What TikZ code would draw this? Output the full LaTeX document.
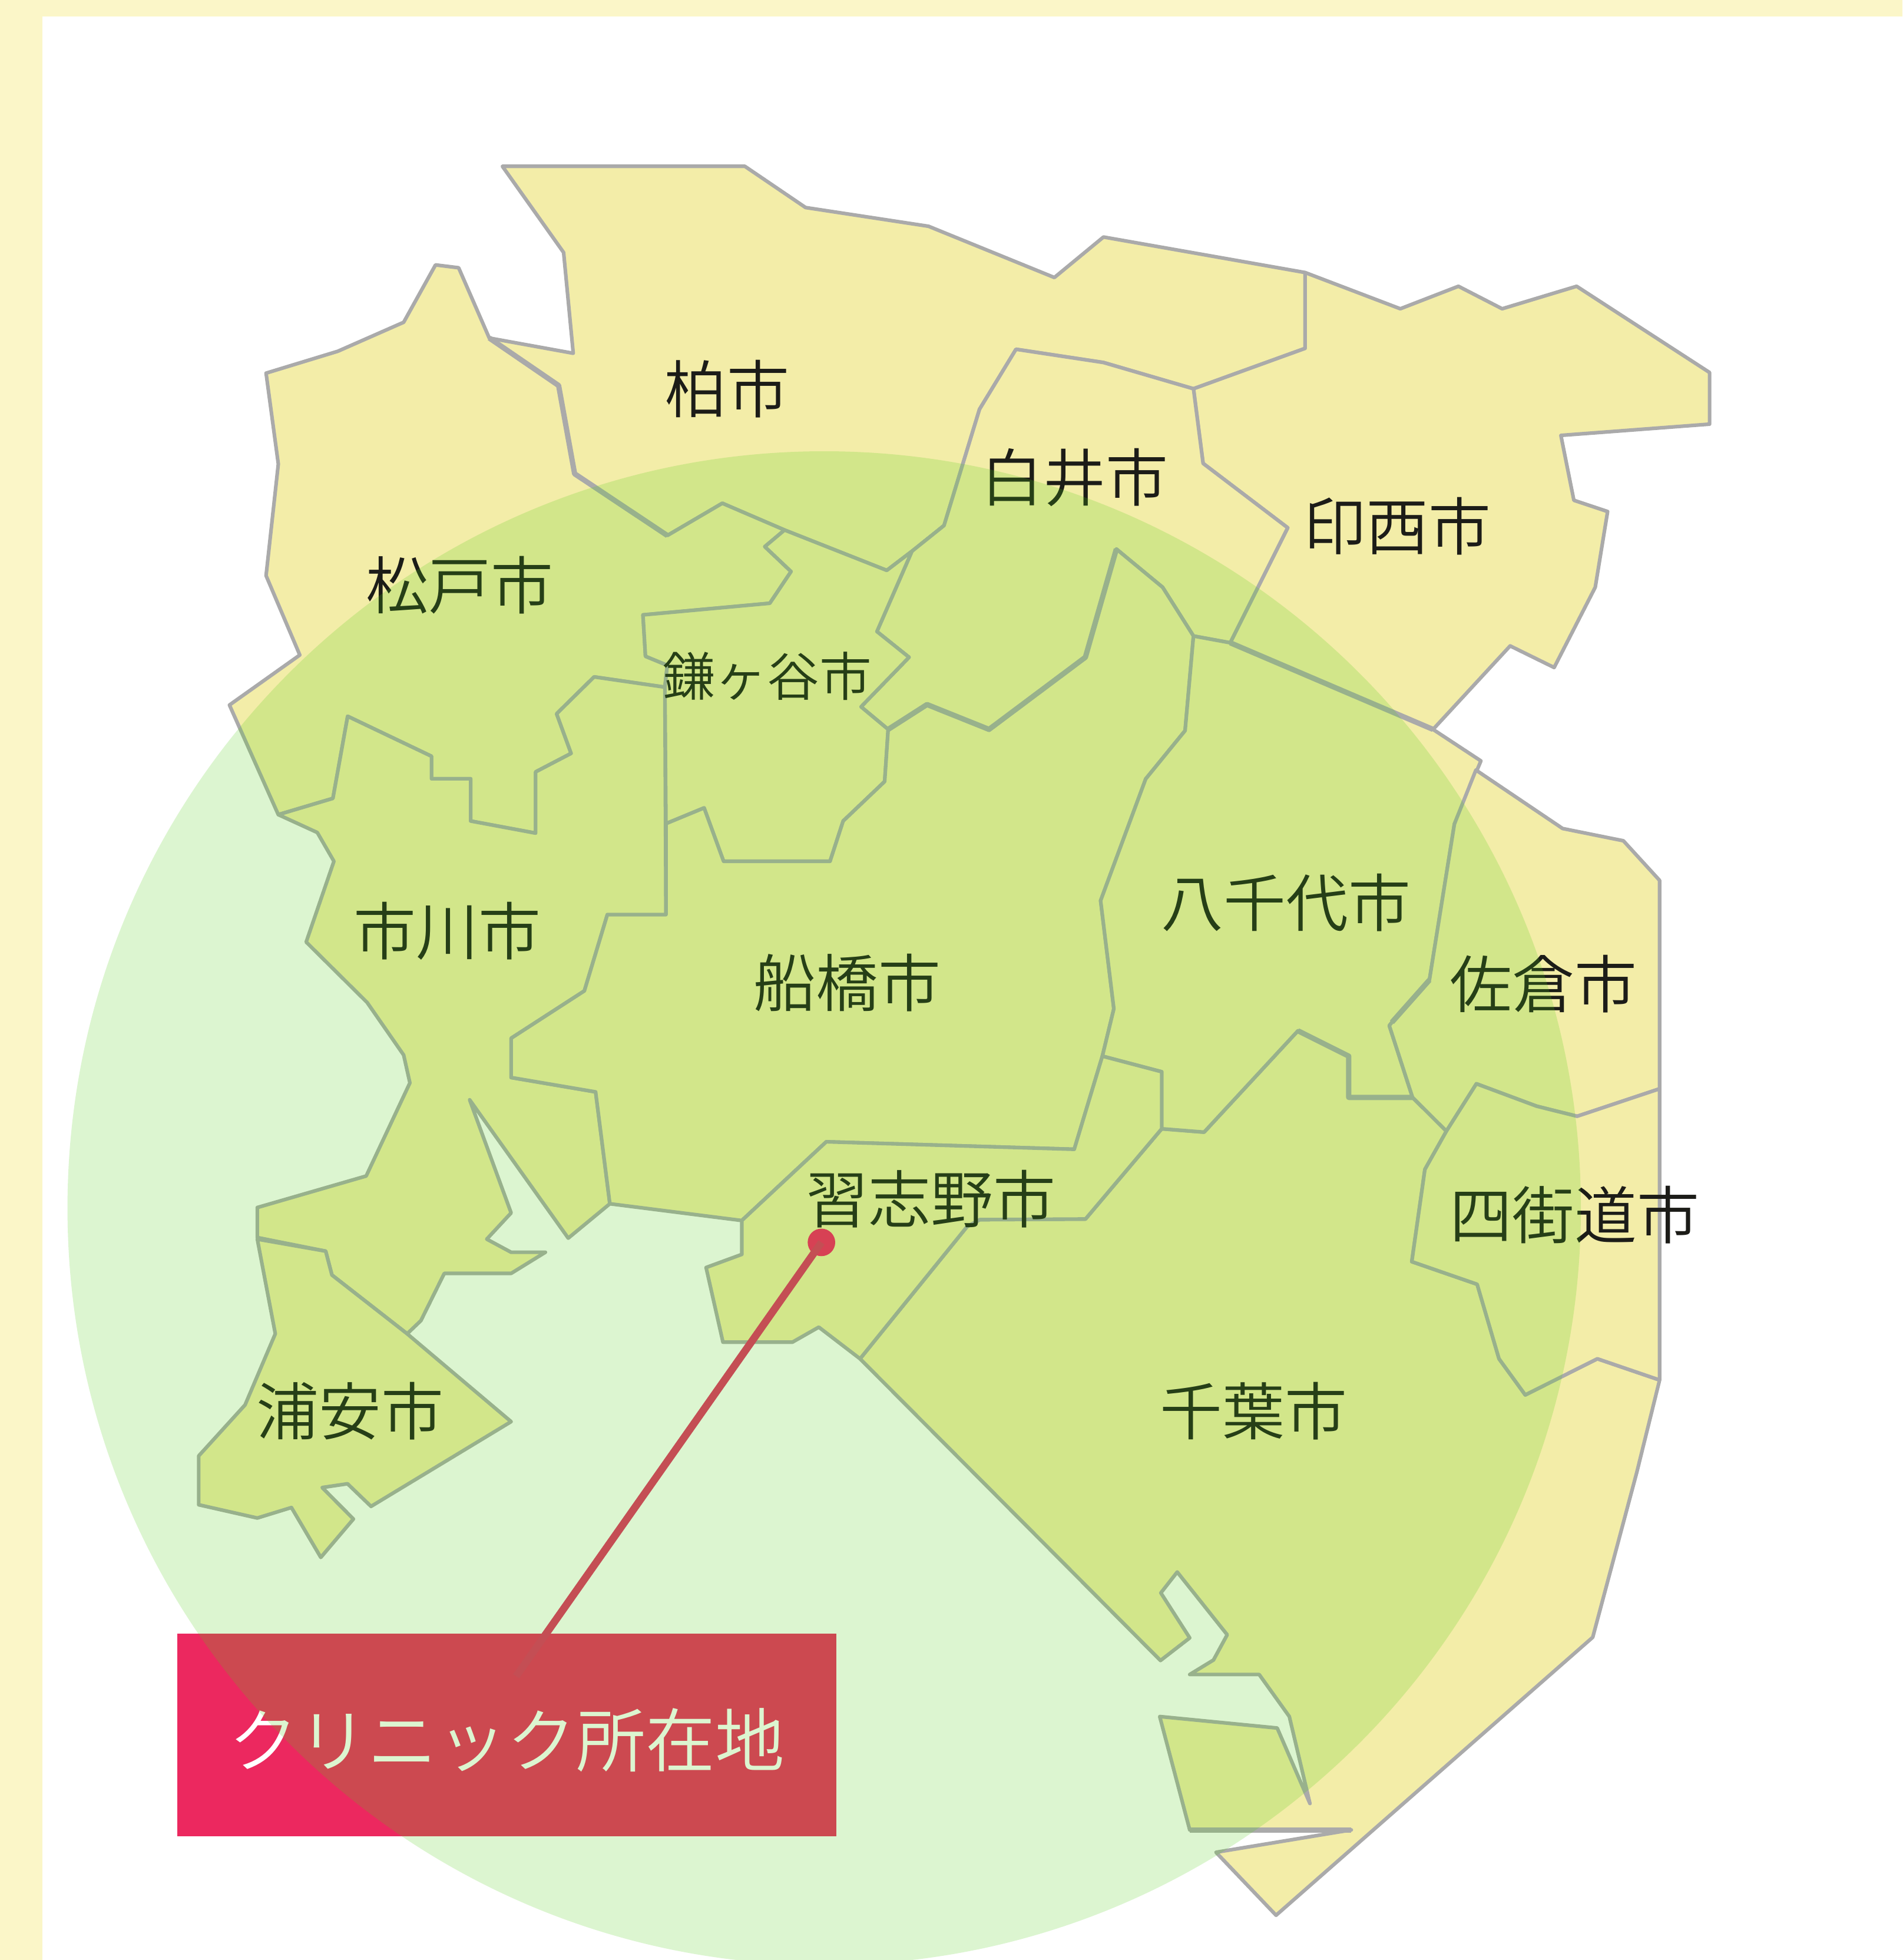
\documentclass[tikz,border=0pt]{standalone}
\usepackage{fontspec}
\setmainfont{Noto Sans CJK JP DemiLight}
\definecolor{bandcol}{RGB}{251,246,200}
\definecolor{landcol}{RGB}{243,237,168}
\definecolor{edgecol}{RGB}{170,170,170}
\definecolor{halocol}{RGB}{80,205,20}
\definecolor{boxcol}{RGB}{236,40,95}
\definecolor{linecol}{RGB}{226,47,100}
\definecolor{dotcol}{RGB}{249,30,100}
\definecolor{inkcol}{RGB}{28,28,24}
\tikzset{
  region/.style={fill=landcol,draw=edgecol,line width=0.82pt,line join=round},
  thickedge/.style={draw=edgecol,line width=1.2pt,line join=round},
  cityname/.style={text=inkcol,inner sep=0pt,font=\fontsize{14.2pt}{16pt}\selectfont},
  citysmall/.style={cityname,font=\fontsize{11.9pt}{14pt}\selectfont},
  clinicbox/.style={fill=boxcol,draw=none,inner sep=0pt,minimum width=527*0.1mm,minimum height=162*0.1mm},
  pindot/.style={circle,fill=dotcol,draw=none,inner sep=0pt,minimum size=22*0.1mm},
  pinline/.style={draw=linecol,line width=1.7pt},
}
\begin{document}
\begin{tikzpicture}[x=0.01cm,y=-0.01cm]
\useasboundingbox (0,0) rectangle (1522.3,1568);
\fill[white] (0,0) rectangle (1522.3,1568);
\fill[bandcol] (0,0) rectangle (1522.3,13);
\fill[bandcol] (0,0) rectangle (34,1568);
% Chiba
\draw[region] (688.2,1087)--(773.9,981.2)--(784,975.7)--(868.6,975.2)--(929.6,903)--(963.5,905.7)--(1038.6,824.6)--(1079.2,844.9)--(1079.2,877.9)--(1130.3,877.9)--(1157.4,904.9)--(1140.2,935.5)--(1129.7,1009.3)--(1182,1027.4)--(1199.5,1087)--(1220.5,1115.9)--(1278.2,1087)--(1328,1104)--(1309.7,1178)--(1274.5,1309.8)--(1021.1,1532.2)--(973,1481.8)--(1081.3,1463.9)--(952,1463.9)--(928,1373.2)--(1022,1382.4)--(1048.2,1442.8)--(1031.7,1373.2)--(1007.6,1339.6)--(952,1339.6)--(971,1328)--(982,1307.8)--(942,1257.6)--(928.9,1274.3)--(952,1310.3)--(928.6,1328.4)--(848.3,1247.7)--cycle;
% Kashiwa
\draw[region] (402,133)--(596,133)--(644.6,166)--(743,181)--(843.7,222)--(883,189.6)--(1044.3,218)--(1044.3,278.7)--(955,311)--(883,290)--(813,279.4)--(783.8,327.4)--(755.4,420.4)--(729.7,441)--(709.6,456.3)--(627.8,424)--(578,402.6)--(534,428.4)--(459.8,379)--(447,308.4)--(391.5,270.4)--(458.7,282.6)--(451,202)--cycle;
% Matsudo
\draw[region] (348.5,211.9)--(367,214.2)--(391.5,270.4)--(447,308.4)--(459.8,379)--(534,428.4)--(578,402.6)--(627.8,424)--(612,437.3)--(633,457.2)--(616,482.6)--(514.5,491.9)--(516.5,525)--(534,532.2)--(532,549.7)--(475.4,541.5)--(445.4,571)--(457,602.7)--(428.6,617.5)--(428.6,666.5)--(376.6,656.8)--(376.6,623)--(345.3,623)--(345.3,605)--(278.2,573)--(266.4,638.7)--(222.7,651.7)--(183.6,564)--(239.9,524)--(212.9,460.5)--(222.7,371.2)--(212.9,298.5)--(270.3,281)--(323,257.8)--cycle;
% Inzai
\draw[region] (1044.3,218)--(1120.5,247)--(1167,229)--(1202,247)--(1261.6,229)--(1368,298)--(1368,339.3)--(1249,348.3)--(1259.4,400.2)--(1286.4,409.2)--(1276.5,469.8)--(1243.6,534)--(1208.4,516.7)--(1146.7,583.5)--(984.4,514.2)--(1030.4,422.2)--(962.7,370.7)--(955,311)--(1044.3,278.7)--cycle;
% Shiroi
\draw[region] (813,279.4)--(883,290)--(955,311)--(962.7,370.7)--(1030.4,422.2)--(984.4,514.2)--(955,508.8)--(930.3,469.8)--(893.3,439.2)--(868.5,525.8)--(791.4,583.5)--(741.8,563.6)--(710.7,583.5)--(689,565.4)--(727.4,525.8)--(701.7,505.2)--(729.7,441)--(755.4,420.4)--(783.8,327.4)--cycle;
% Kamagaya
\draw[region] (627.8,424)--(709.6,456.3)--(729.7,441)--(701.7,505.2)--(727.4,525.8)--(689,565.4)--(710.7,583.5)--(707.9,625.2)--(674.7,656.8)--(664.2,689)--(579,689)--(563.4,646.3)--(532.9,658.9)--(532,549.7)--(534,532.2)--(516.5,525)--(514.5,491.9)--(616,482.6)--(633,457.2)--(612,437.3)--cycle;
% Ichikawa
\draw[region] (222.7,651.7)--(266.4,638.7)--(278.2,573)--(345.3,605)--(345.3,623)--(376.6,623)--(376.6,656.8)--(428.6,666.5)--(428.6,617.5)--(457,602.7)--(445.4,571)--(475.4,541.5)--(532,549.7)--(532.9,731.7)--(486,731.7)--(467.6,792.7)--(409,830.6)--(409,862)--(476.6,873.5)--(488,963)--(454.7,990.5)--(375.8,879.8)--(409,970.3)--(389.5,991.3)--(409,1001.8)--(436.4,1001.8)--(409,1018.7)--(355.5,1018.7)--(336.8,1056.5)--(325.8,1067)--(265.6,1020)--(260.6,1000.9)--(205.9,990)--(205.9,966)--(293,940.8)--(328,866.3)--(323,844)--(293.8,802)--(245,753.6)--(267.2,689)--(253.9,666)--cycle;
% Urayasu
\draw[region] (205.9,991.3)--(220.3,1067)--(196.1,1123.9)--(159,1164.7)--(159,1203.8)--(205.9,1214.4)--(233.2,1206)--(256.7,1245.9)--(282.8,1215.2)--(257.8,1190)--(278.1,1187)--(296.9,1205.1)--(409,1137.3)--(325.8,1067)--(265.6,1020)--(260.6,1000.9)--cycle;
% Funabashi
\draw[region] (955,508.8)--(948.3,584.5)--(916.8,623.1)--(880.7,720.5)--(891.3,807)--(882.1,844.9)--(859.6,919.4)--(661.2,913.4)--(593.6,976.4)--(488,963)--(476.6,873.5)--(409,862)--(409,830.6)--(467.6,792.7)--(486,731.7)--(532.9,731.7)--(532.9,658.9)--(563.4,646.3)--(579,689)--(664.2,689)--(674.7,656.8)--(707.9,625.2)--(710.7,583.5)--(741.8,563.6)--(791.4,583.5)--(868.5,525.8)--(893.3,439.2)--(930.3,469.8)--cycle;
% Yachiyo
\draw[region] (955,508.8)--(984.4,514.2)--(1146.7,583.5)--(1185,608.7)--(1163.8,659.2)--(1143.8,784)--(1113.8,817.8)--(1111.7,820.5)--(1130.3,877.9)--(1079.2,877.9)--(1079.2,844.9)--(1038.6,824.6)--(963.5,905.7)--(929.6,903)--(929.6,857.4)--(882.1,844.9)--(891.3,807)--(880.7,720.5)--(916.8,623.1)--(948.3,584.5)--cycle;
% Sakura
\draw[region] (1181,616)--(1250.4,662.8)--(1299,672.6)--(1328,704.3)--(1328,871)--(1262,893)--(1229.5,884.9)--(1181.4,867)--(1157.4,904.9)--(1130.3,877.9)--(1111.7,820.5)--(1113.8,817.8)--(1143.8,784)--(1163.8,659.2)--cycle;
% Yotsukaido
\draw[region] (1181.4,867)--(1229.5,884.9)--(1262,893)--(1328,871)--(1328,1104)--(1278.2,1087)--(1220.5,1115.9)--(1199.5,1087)--(1182,1027.4)--(1129.7,1009.3)--(1140.2,935.5)--(1157.4,904.9)--cycle;
% Narashino
\draw[region] (661.2,913.4)--(859.6,919.4)--(882.1,844.9)--(929.6,857.4)--(929.6,903)--(868.6,975.2)--(784,975.7)--(773.9,981.2)--(688.2,1087)--(655.2,1061.7)--(634.1,1073.7)--(578.5,1073.7)--(565,1014)--(593.6,1003.5)--(593.6,976.4)--cycle;
% doubled boundaries that read heavier in the map
\draw[thickedge] (391.5,270.4)--(447,308.4)--(459.8,379)--(534,428.4);
\draw[thickedge] (893.3,439.2)--(868.5,525.8)--(791.4,583.5)--(741.8,563.6)--(710.7,583.5);
\draw[thickedge] (984.4,514.2)--(1146.7,583.5);
\draw[thickedge] (1143.8,784)--(1113.8,817.8);
\draw[thickedge] (1038.6,824.6)--(1079.2,844.9)--(1079.2,877.9)--(1130.3,877.9);
\draw[thickedge] (952,1463.9)--(1081.3,1463.9);
% clinic label, pin and city names
\node[clinicbox] (clinic) at (405.5,1388) {};
\node[text=white,inner sep=0pt,font=\fontsize{15.8pt}{18pt}\selectfont] (cliniclabel) at (405.5,1392) {クリニック所在地};
\node[pindot] (pin) at (657.3,993.9) {};
\coordinate (pinfoot) at (413,1341);
\draw[pinline] (pin.center) -- (pinfoot);
\node[cityname] (kashiwa) at (582,311) {柏市};
\node[cityname] (shiroi) at (860,382) {白井市};
\node[cityname] (inzai) at (1118,421) {印西市};
\node[cityname] (matsudo) at (368,468) {松戸市};
\node[citysmall] (kamagaya) at (614,541) {鎌ヶ谷市};
\node[cityname] (ichikawa) at (358,745) {市川市};
\node[cityname] (funabashi) at (678,786) {船橋市};
\node[cityname] (yachiyo) at (1029,722) {八千代市};
\node[cityname] (sakura) at (1235,787) {佐倉市};
\node[cityname] (narashino) at (745,959) {習志野市};
\node[cityname] (yotsukaido) at (1260,972) {四街道市};
\node[cityname] (urayasu) at (280,1129) {浦安市};
\node[cityname] (chiba) at (1003,1129) {千葉市};
% range circle over everything
\fill[halocol,fill opacity=0.2] (659.5,966.5) circle[radius=605.5];
\end{tikzpicture}
\end{document}
